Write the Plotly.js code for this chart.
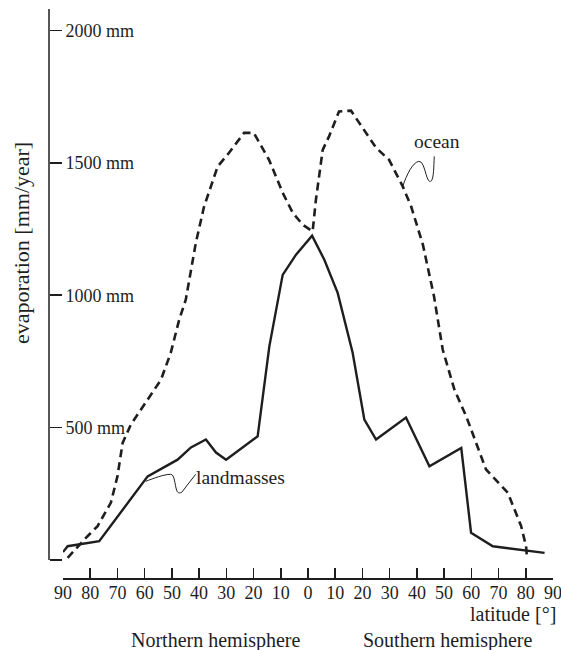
<!DOCTYPE html>
<html>
<head>
<meta charset="utf-8">
<script src="https://cdn.plot.ly/plotly-3.0.1.min.js"></script>
<style>
  html, body { margin: 0; padding: 0; background: #ffffff; }
  #chart { width: 561px; height: 650px; }
</style>
</head>
<body>
<div id="chart"></div>
<script>
// Latitude: negative = Northern hemisphere, positive = Southern hemisphere
const latLand = [-90, -88.3, -76.7, -58.9, -47.9, -43.0, -37.5, -33.8, -30.1, -18.5, -14.2, -9.3, -4.4, 1.5, 6.0, 10.9, 16.4, 20.7, 25.0, 36.0, 44.6, 56.3, 59.9, 67.9, 86.9];
const evapLand = [30, 52, 71, 316, 379, 425, 455, 406, 379, 467, 807, 1077, 1153, 1225, 1134, 1009, 783, 530, 455, 538, 354, 423, 103, 52, 27];

const latOcean = [-88.3, -82.2, -77.3, -72.4, -70.0, -68.1, -65.1, -58.9, -54.0, -50.4, -47.3, -44.9, -41.2, -38.2, -33.2, -29.0, -23.5, -19.9, -14.3, -9.3, -5.6, -1.9, 1.7, 2.9, 5.4, 7.7, 11.4, 15.8, 20.6, 25.0, 29.8, 34.8, 37.9, 42.2, 46.3, 49.5, 53.8, 58.1, 65.4, 73.4, 78.3, 80.1, 80.4];
const evapOcean = [8, 77, 128, 217, 316, 442, 511, 606, 681, 783, 908, 983, 1198, 1334, 1486, 1538, 1613, 1613, 1511, 1387, 1311, 1266, 1241, 1360, 1549, 1599, 1694, 1697, 1625, 1557, 1511, 1411, 1335, 1191, 995, 794, 643, 543, 342, 254, 128, 52, 14];

const xTickVals = [-90, -80, -70, -60, -50, -40, -30, -20, -10, 0, 10, 20, 30, 40, 50, 60, 70, 80, 90];
const xTickText = ['90', '80', '70', '60', '50', '40', '30', '20', '10', '0', '10', '20', '30', '40', '50', '60', '70', '80', '90'];
const yTickVals = [0, 500, 1000, 1500, 2000];
const yTickText = ['', '500 mm', '1000 mm', '1500 mm', '2000 mm'];

const INK = '#1e1e1e';
const FONT = 'Liberation Serif, Times New Roman, serif';

// Layout geometry (pixels)
const PLOT_H = 569;      // 650 - top 9 - bottom 72
const GAP = 18;          // gap between y=0 and the x-axis line
const Y_TOP = 2081;
const Y_BOTTOM = -GAP * Y_TOP / (PLOT_H - GAP);

const traces = [
  {
    x: latOcean, y: evapOcean, type: 'scatter', mode: 'lines', name: 'ocean',
    line: { color: INK, width: 2.6, dash: '8px,5px' }, hoverinfo: 'skip'
  },
  {
    x: latLand, y: evapLand, type: 'scatter', mode: 'lines', name: 'landmasses',
    line: { color: INK, width: 2.4 }, hoverinfo: 'skip'
  }
];

const oceanAnchor = latOcean.indexOf(34.8);
const landAnchor = latLand.indexOf(-58.9);

const layout = {
  width: 561, height: 650,
  margin: { l: 49, r: 8, t: 9, b: 72 },
  paper_bgcolor: '#ffffff', plot_bgcolor: '#ffffff',
  showlegend: false,
  font: { family: FONT, size: 18, color: INK },
  xaxis: {
    domain: [14 / 504, 1], range: [-90, 90],
    anchor: 'y',
    showline: true, linecolor: INK, linewidth: 1.5,
    ticks: 'inside', ticklen: 10, tickwidth: 1.5, tickcolor: INK,
    tickvals: xTickVals, ticktext: xTickText,
    ticklabeloverflow: 'allow',
    ticklabelstandoff: -2,
    showgrid: false, zeroline: false,
    tickfont: { family: FONT, size: 18, color: INK }
  },
  yaxis: {
    domain: [0, 1], range: [Y_BOTTOM, Y_TOP],
    anchor: 'free', position: 0, side: 'right',
    showline: false,
    ticks: 'outside', ticklen: 12, tickwidth: 1.5, tickcolor: INK,
    tickvals: yTickVals, ticktext: yTickText,
    ticklabeloverflow: 'allow',
    showgrid: false, zeroline: false,
    tickfont: { family: FONT, size: 18, color: INK }
  },
  shapes: [
    // value-axis line, from 0 to the top of the axis
    {
      type: 'line', xref: 'paper', yref: 'y',
      x0: 0, x1: 0, y0: 0, y1: Y_TOP,
      line: { color: INK, width: 1.5 }
    },
    {
      type: 'path', xref: 'x', yref: 'y',
      xsizemode: 'pixel', ysizemode: 'pixel',
      xanchor: latOcean[oceanAnchor], yanchor: evapOcean[oceanAnchor],
      path: 'M0,0 C4,12 10,24 16,25 C22,26 23,6 27,5 C31,4 31,18 31.5,30',
      line: { color: INK, width: 1 }
    },
    {
      type: 'path', xref: 'x', yref: 'y',
      xsizemode: 'pixel', ysizemode: 'pixel',
      xanchor: latLand[landAnchor], yanchor: evapLand[landAnchor],
      path: 'M-2,-5 C6,-2 16,2 23,2 C27,2 27,-8 29,-14 C30,-17 32,-17 34,-16 L48,2',
      line: { color: INK, width: 1 }
    }
  ],
  annotations: [
    { text: 'ocean', xref: 'x', yref: 'y', x: 47.5, y: 1579, showarrow: false,
      xanchor: 'center', yanchor: 'middle', font: { family: FONT, size: 19.5, color: INK } },
    { text: 'landmasses', xref: 'x', yref: 'y', x: -41.8, y: 311, showarrow: false,
      xanchor: 'left', yanchor: 'middle', font: { family: FONT, size: 19.5, color: INK } },
    { text: 'latitude [°]', xref: 'paper', yref: 'paper', x: 1, xshift: 5, y: -36 / PLOT_H, showarrow: false,
      xanchor: 'right', yanchor: 'middle', font: { family: FONT, size: 20, color: INK } },
    { text: 'Northern hemisphere', xref: 'paper', yref: 'paper', x: (216 - 49) / 504, y: -62 / PLOT_H, showarrow: false,
      xanchor: 'center', yanchor: 'middle', font: { family: FONT, size: 20, color: INK } },
    { text: 'Southern hemisphere', xref: 'paper', yref: 'paper', x: (448 - 49) / 504, y: -62 / PLOT_H, showarrow: false,
      xanchor: 'center', yanchor: 'middle', font: { family: FONT, size: 20, color: INK } },
    { text: 'evaporation [mm/year]', xref: 'paper', yref: 'paper', x: (21 - 49) / 504, y: (578 - 243) / PLOT_H, showarrow: false,
      textangle: -90, xanchor: 'center', yanchor: 'middle', font: { family: FONT, size: 22, color: INK } }
  ]
};

Plotly.newPlot('chart', traces, layout, { displayModeBar: false, staticPlot: true });
</script>
</body>
</html>
